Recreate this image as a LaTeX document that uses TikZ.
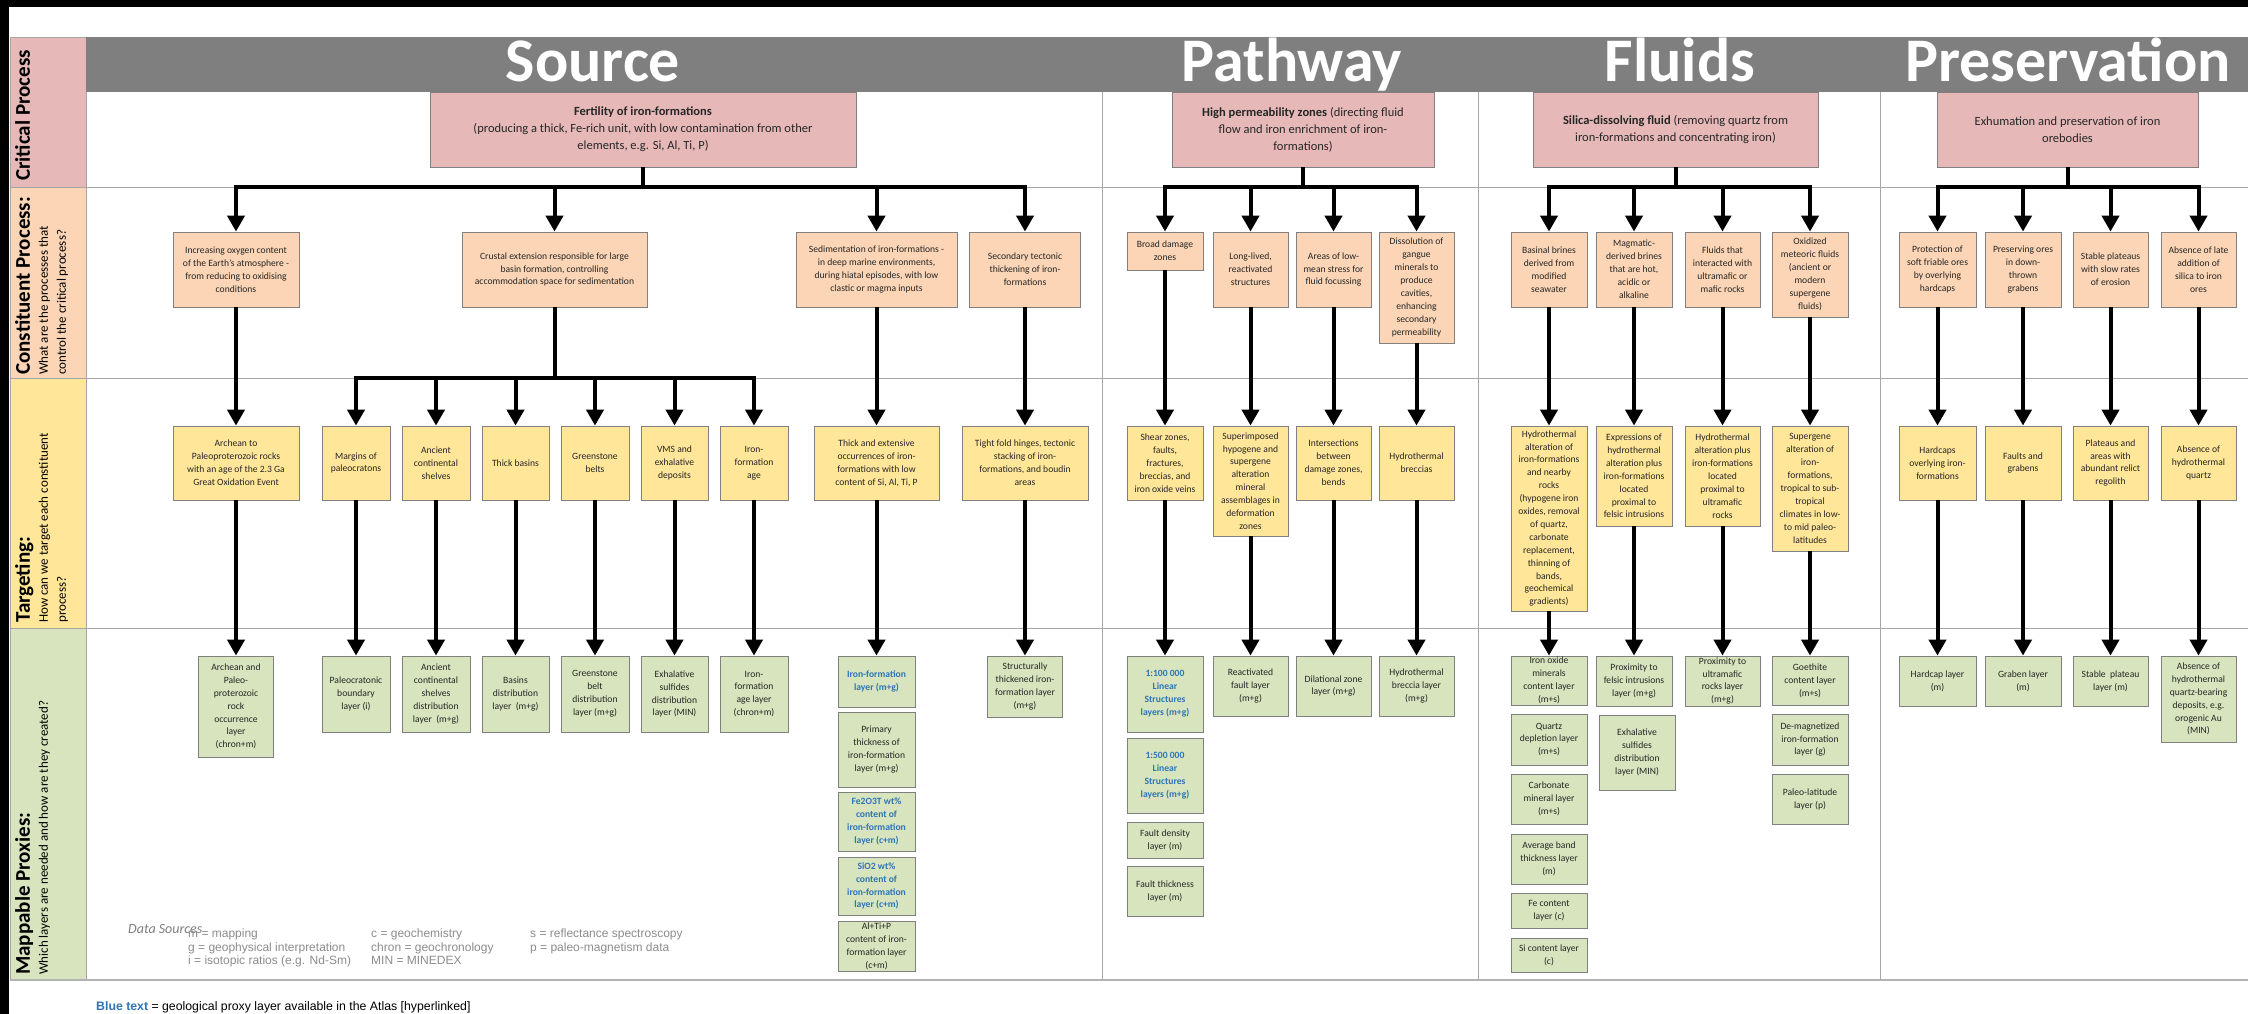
\documentclass[tikz,border=0pt]{standalone}
\usepackage{fontspec}
\setmainfont{Carlito}
\newfontfamily\arialfont{Liberation Sans}
\usetikzlibrary{arrows.meta}

\definecolor{critfill}{HTML}{E6B9B8}
\definecolor{consfill}{HTML}{FBD5B5}
\definecolor{targfill}{HTML}{FFE699}
\definecolor{proxfill}{HTML}{D7E4BD}
\definecolor{headgray}{HTML}{7F7F7F}
\definecolor{gridgray}{HTML}{A6A6A6}
\definecolor{atlasblue}{HTML}{2E75B6}
\definecolor{keygray}{HTML}{8C8C8C}

\begin{document}
\begin{tikzpicture}[x=1pt,y=-1pt,
  arr/.style={line width=4pt,-{Triangle[width=17pt,length=16pt]}},
  box/.style={draw=black!50,line width=0.8pt,align=center,inner sep=1pt,text=black!85,font=\fontsize{9.6}{12.9}\selectfont},
  wh/.style 2 args={minimum width=#1,minimum height=#2},
  crit/.style={box,fill=critfill,font=\fontsize{12.5}{17}\selectfont},
  cons/.style={box,fill=consfill},
  targ/.style={box,fill=targfill},
  prox/.style={box,fill=proxfill},
  link/.style={prox,text=atlasblue,font=\fontsize{9.6}{12.9}\selectfont\bfseries},
  head/.style={anchor=base,text=white,font=\fontsize{62}{62}\selectfont\bfseries},
  side/.style={rotate=90,anchor=north west,align=left,inner sep=0pt,text=black,font=\fontsize{13}{18}\selectfont},
  key/.style={anchor=north west,align=left,inner sep=0pt,text=keygray,font=\arialfont\fontsize{12}{13.5}\selectfont}]
\useasboundingbox (0,0) rectangle (2248,1014);
\fill[white] (0,0) rectangle (2248,1014);
\fill[black] (0,0) rectangle (2248,7);
\fill[black] (0,0) rectangle (9,1014);

% left column and grid
\draw[gridgray,fill=critfill] (10,37) rectangle (86,187);
\draw[gridgray,fill=consfill] (10,187) rectangle (86,378);
\draw[gridgray,fill=targfill] (10,378) rectangle (86,628);
\draw[gridgray,fill=proxfill] (10,628) rectangle (86,980);
\fill[headgray] (86,37) rectangle (2248,92);
\draw[gridgray,line width=1pt] (86,187) -- (2248,187) (86,378) -- (2248,378) (86,628) -- (2248,628);
\draw[gridgray,line width=1pt] (1102,92) -- (1102,980) (1478,92) -- (1478,980) (1880,92) -- (1880,980);
\draw[black!30,line width=2.5pt] (10,980) -- (2248,980);

\node[side] (lbcrit) at (15,181) {{\fontsize{21}{24}\selectfont\bfseries Critical Process}};
\node[side] (lbcons) at (15,375) {{\fontsize{21}{24}\selectfont\bfseries Constituent Process:}\\What are the processes that\\control the critical process?};
\node[side] (lbtarg) at (15,623) {{\fontsize{21}{24}\selectfont\bfseries Targeting:}\\How can we target each constituent\\process?};
\node[side] (lbprox) at (15,975) {{\fontsize{21}{24}\selectfont\bfseries Mappable Proxies:}\\Which layers are needed and how are they created?};

\node[head] (hsrc) at (593,82) {Source};
\node[head] (hpath) at (1292,82) {Pathway};
\node[head] (hfluid) at (1680,82) {Fluids};
\node[head] (hpres) at (2068,82) {Preservation};

% critical processes
\node[crit,wh={426}{75}] (fert) at (643,129.5) {\textbf{Fertility of iron-formations}\\(producing a thick, Fe-rich unit, with low contamination from other\\elements, e.g. Si, Al, Ti, P)};
\node[crit,wh={262}{75}] (perm) at (1303,129.5) {\textbf{High permeability zones} (directing fluid\\flow and iron enrichment of iron-\\formations)};
\node[crit,wh={285}{75}] (silica) at (1675.5,129.5) {\textbf{Silica-dissolving fluid} (removing quartz from\\iron-formations and concentrating iron)};
\node[crit,wh={261}{75}] (exhum) at (2067.5,129.5) {Exhumation and preservation of iron\\orebodies};

% constituent processes
\node[cons,wh={126}{75}] (c1) at (236,269.5) {Increasing oxygen content\\of the Earth's atmosphere -\\from reducing to oxidising\\conditions};
\node[cons,wh={185}{75}] (c2) at (554.5,269.5) {Crustal extension responsible for large\\basin formation, controlling\\accommodation space for sedimentation};
\node[cons,wh={161}{75}] (c3) at (876.5,269.5) {Sedimentation of iron-formations -\\in deep marine environments,\\during hiatal episodes, with low\\clastic or magma inputs};
\node[cons,wh={111}{75}] (c4) at (1025,269.5) {Secondary tectonic\\thickening of iron-\\formations};
\node[cons,wh={76}{38}] (p1) at (1165,251) {Broad damage\\zones};
\node[cons,wh={75}{75}] (p2) at (1250.5,269.5) {Long-lived,\\reactivated\\structures};
\node[cons,wh={75}{75}] (p3) at (1333.5,269.5) {Areas of low-\\mean stress for\\fluid focussing};
\node[cons,wh={75}{111}] (p4) at (1416.5,287.5) {Dissolution of\\gangue\\minerals to\\produce\\cavities,\\enhancing\\secondary\\permeability};
\node[cons,wh={76}{75}] (f1) at (1549,269.5) {Basinal brines\\derived from\\modified\\seawater};
\node[cons,wh={76}{75}] (f2) at (1634,269.5) {Magmatic-\\derived brines\\that are hot,\\acidic or\\alkaline};
\node[cons,wh={75}{75}] (f3) at (1722.5,269.5) {Fluids that\\interacted with\\ultramafic or\\mafic rocks};
\node[cons,wh={76}{85}] (f4) at (1810,274.5) {Oxidized\\meteoric fluids\\(ancient or\\modern\\supergene\\fluids)};
\node[cons,wh={77}{75}] (r1) at (1937.5,269.5) {Protection of\\soft friable ores\\by overlying\\hardcaps};
\node[cons,wh={76}{75}] (r2) at (2023,269.5) {Preserving ores\\in down-\\thrown\\grabens};
\node[cons,wh={75}{75}] (r3) at (2110.5,269.5) {Stable plateaus\\with slow rates\\of erosion};
\node[cons,wh={75}{75}] (r4) at (2198.5,269.5) {Absence of late\\addition of\\silica to iron\\ores};

% targeting
\node[targ,wh={126}{74}] (t1) at (236,463) {Archean to\\Paleoproterozoic rocks\\with an age of the 2.3 Ga\\Great Oxidation Event};
\node[targ,wh={68}{74}] (t2) at (356,463) {Margins of\\paleocratons};
\node[targ,wh={68}{74}] (t3) at (436,463) {Ancient\\continental\\shelves};
\node[targ,wh={67}{74}] (t4) at (515.5,463) {Thick basins};
\node[targ,wh={68}{74}] (t5) at (595,463) {Greenstone\\belts};
\node[targ,wh={67}{74}] (t6) at (674.5,463) {VMS and\\exhalative\\deposits};
\node[targ,wh={68}{74}] (t7) at (754,463) {Iron-\\formation\\age};
\node[targ,wh={125}{74}] (t8) at (876.5,463) {Thick and extensive\\occurrences of iron-\\formations with low\\content of Si, Al, Ti, P};
\node[targ,wh={126}{74}] (t9) at (1025,463) {Tight fold hinges, tectonic\\stacking of iron-\\formations, and boudin\\areas};
\node[targ,wh={76}{74}] (pt1) at (1165,463) {Shear zones,\\faults,\\fractures,\\breccias, and\\iron oxide veins};
\node[targ,wh={75}{110}] (pt2) at (1250.5,481) {Superimposed\\hypogene and\\supergene\\alteration\\mineral\\assemblages in\\deformation\\zones};
\node[targ,wh={75}{74}] (pt3) at (1333.5,463) {Intersections\\between\\damage zones,\\bends};
\node[targ,wh={75}{74}] (pt4) at (1416.5,463) {Hydrothermal\\breccias};
\node[targ,wh={76}{185}] (ft1) at (1549,518.5) {Hydrothermal\\alteration of\\iron-formations\\and nearby\\rocks\\(hypogene iron\\oxides, removal\\of quartz,\\carbonate\\replacement,\\thinning of\\bands,\\geochemical\\gradients)};
\node[targ,wh={76}{100}] (ft2) at (1634,476) {Expressions of\\hydrothermal\\alteration plus\\iron-formations\\located\\proximal to\\felsic intrusions};
\node[targ,wh={75}{100}] (ft3) at (1722.5,476) {Hydrothermal\\alteration plus\\iron-formations\\located\\proximal to\\ultramafic\\rocks};
\node[targ,wh={76}{125}] (ft4) at (1810,488.5) {Supergene\\alteration of\\iron-\\formations,\\tropical to sub-\\tropical\\climates in low-\\to mid paleo-\\latitudes};
\node[targ,wh={77}{74}] (rt1) at (1937.5,463) {Hardcaps\\overlying iron-\\formations};
\node[targ,wh={76}{74}] (rt2) at (2023,463) {Faults and\\grabens};
\node[targ,wh={75}{74}] (rt3) at (2110.5,463) {Plateaus and\\areas with\\abundant relict\\regolith};
\node[targ,wh={75}{74}] (rt4) at (2198.5,463) {Absence of\\hydrothermal\\quartz};

% mappable proxies
\node[prox,wh={75}{101}] (m1) at (236,706.5) {Archean and\\Paleo-\\proterozoic\\rock\\occurrence\\layer\\(chron+m)};
\node[prox,wh={68}{76}] (m2) at (356,694) {Paleocratonic\\boundary\\layer (i)};
\node[prox,wh={68}{76}] (m3) at (436,694) {Ancient\\continental\\shelves\\distribution\\layer\ \ (m+g)};
\node[prox,wh={67}{76}] (m4) at (515.5,694) {Basins\\distribution\\layer\ \ (m+g)};
\node[prox,wh={68}{76}] (m5) at (595,694) {Greenstone\\belt\\distribution\\layer (m+g)};
\node[prox,wh={67}{76}] (m6) at (674.5,694) {Exhalative\\sulfides\\distribution\\layer (MIN)};
\node[prox,wh={68}{76}] (m7) at (754,694) {Iron-\\formation\\age layer\\(chron+m)};
\node[link,wh={77}{51}] (m8) at (876.5,681.5) {Iron-formation\\layer (m+g)};
\node[prox,wh={77}{75}] (m8b) at (876.5,749.5) {Primary\\thickness of\\iron-formation\\layer (m+g)};
\node[link,wh={77}{59}] (m8c) at (876.5,821.5) {Fe2O3T wt\%\\content of\\iron-formation\\layer (c+m)};
\node[link,wh={77}{58}] (m8d) at (876.5,886) {SiO2 wt\%\\content of\\iron-formation\\layer (c+m)};
\node[prox,wh={77}{50}] (m8e) at (876.5,946) {Al+Ti+P\\content of iron-\\formation layer\\(c+m)};
\node[prox,wh={75}{61}] (m9) at (1025,686.5) {Structurally\\thickened iron-\\formation layer\\(m+g)};
\node[link,wh={76}{76}] (pm1) at (1165,694) {1:100 000\\Linear\\Structures\\layers (m+g)};
\node[link,wh={76}{75}] (pm1b) at (1165,775.5) {1:500 000\\Linear\\Structures\\layers (m+g)};
\node[prox,wh={76}{36}] (pm1c) at (1165,840) {Fault density\\layer (m)};
\node[prox,wh={76}{50}] (pm1d) at (1165,891) {Fault thickness\\layer (m)};
\node[prox,wh={75}{60}] (pm2) at (1250.5,686) {Reactivated\\fault layer\\(m+g)};
\node[prox,wh={75}{60}] (pm3) at (1333.5,686) {Dilational zone\\layer (m+g)};
\node[prox,wh={75}{60}] (pm4) at (1416.5,686) {Hydrothermal\\breccia layer\\(m+g)};
\node[prox,wh={76}{49}] (fm1) at (1549,680.5) {Iron oxide\\minerals\\content layer\\(m+s)};
\node[prox,wh={76}{51}] (fm1b) at (1549,739.5) {Quartz\\depletion layer\\(m+s)};
\node[prox,wh={76}{50}] (fm1c) at (1549,799) {Carbonate\\mineral layer\\(m+s)};
\node[prox,wh={76}{50}] (fm1d) at (1549,859) {Average band\\thickness layer\\(m)};
\node[prox,wh={76}{35}] (fm1e) at (1549,910.5) {Fe content\\layer (c)};
\node[prox,wh={76}{34}] (fm1f) at (1549,955) {Si content layer\\(c)};
\node[prox,wh={76}{50}] (fm2) at (1634,681) {Proximity to\\felsic intrusions\\layer (m+g)};
\node[prox,wh={76}{75}] (fm2b) at (1637,752.5) {Exhalative\\sulfides\\distribution\\layer (MIN)};
\node[prox,wh={75}{50}] (fm3) at (1722.5,681) {Proximity to\\ultramafic\\rocks layer\\(m+g)};
\node[prox,wh={76}{49}] (fm4) at (1810,680.5) {Goethite\\content layer\\(m+s)};
\node[prox,wh={76}{51}] (fm4b) at (1810,739.5) {De-magnetized\\iron-formation\\layer (g)};
\node[prox,wh={76}{50}] (fm4c) at (1810,799) {Paleo-latitude\\layer (p)};
\node[prox,wh={77}{50}] (rm1) at (1937.5,681) {Hardcap layer\\(m)};
\node[prox,wh={76}{50}] (rm2) at (2023,681) {Graben layer\\(m)};
\node[prox,wh={75}{50}] (rm3) at (2110.5,681) {Stable\ \ plateau\\layer (m)};
\node[prox,wh={75}{86}] (rm4) at (2198.5,699) {Absence of\\hydrothermal\\quartz-bearing\\deposits, e.g.\\orogenic Au\\(MIN)};

% critical -> constituent
\draw[arr] (fert.south) -- ++(0,20) -| (c1.north);
\draw[arr] (fert.south) -- ++(0,20) -| (c2.north);
\draw[arr] (fert.south) -- ++(0,20) -| (c3.north);
\draw[arr] (fert.south) -- ++(0,20) -| (c4.north);
\draw[arr] (perm.south) -- ++(0,20) -| (p1.north);
\draw[arr] (perm.south) -- ++(0,20) -| (p2.north);
\draw[arr] (perm.south) -- ++(0,20) -| (p3.north);
\draw[arr] (perm.south) -- ++(0,20) -| (p4.north);
\draw[arr] (silica.south) -- ++(0,20) -| (f1.north);
\draw[arr] (silica.south) -- ++(0,20) -| (f2.north);
\draw[arr] (silica.south) -- ++(0,20) -| (f3.north);
\draw[arr] (silica.south) -- ++(0,20) -| (f4.north);
\draw[arr] (exhum.south) -- ++(0,20) -| (r1.north);
\draw[arr] (exhum.south) -- ++(0,20) -| (r2.north);
\draw[arr] (exhum.south) -- ++(0,20) -| (r3.north);
\draw[arr] (exhum.south) -- ++(0,20) -| (r4.north);

% constituent -> targeting
\draw[arr] (c1) -- (t1);
\draw[arr] (c2.south) -- ++(0,71) -| (t2.north);
\draw[arr] (c2.south) -- ++(0,71) -| (t3.north);
\draw[arr] (c2.south) -- ++(0,71) -| (t4.north);
\draw[arr] (c2.south) -- ++(0,71) -| (t5.north);
\draw[arr] (c2.south) -- ++(0,71) -| (t6.north);
\draw[arr] (c2.south) -- ++(0,71) -| (t7.north);
\draw[arr] (c3) -- (t8);
\draw[arr] (c4) -- (t9);
\draw[arr] (p1) -- (pt1);
\draw[arr] (p2) -- (pt2);
\draw[arr] (p3) -- (pt3);
\draw[arr] (p4) -- (pt4);
\draw[arr] (f1) -- (ft1);
\draw[arr] (f2) -- (ft2);
\draw[arr] (f3) -- (ft3);
\draw[arr] (f4) -- (ft4);
\draw[arr] (r1) -- (rt1);
\draw[arr] (r2) -- (rt2);
\draw[arr] (r3) -- (rt3);
\draw[arr] (r4) -- (rt4);

% targeting -> proxies
\draw[arr] (t1) -- (m1);
\draw[arr] (t2) -- (m2);
\draw[arr] (t3) -- (m3);
\draw[arr] (t4) -- (m4);
\draw[arr] (t5) -- (m5);
\draw[arr] (t6) -- (m6);
\draw[arr] (t7) -- (m7);
\draw[arr] (t8) -- (m8);
\draw[arr] (t9) -- (m9);
\draw[arr] (pt1) -- (pm1);
\draw[arr] (pt2) -- (pm2);
\draw[arr] (pt3) -- (pm3);
\draw[arr] (pt4) -- (pm4);
\draw[arr] (ft1) -- (fm1);
\draw[arr] (ft2) -- (fm2);
\draw[arr] (ft3) -- (fm3);
\draw[arr] (ft4) -- (fm4);
\draw[arr] (rt1) -- (rm1);
\draw[arr] (rt2) -- (rm2);
\draw[arr] (rt3) -- (rm3);
\draw[arr] (rt4) -- (rm4);

% data sources key
\node[anchor=base west,inner sep=0pt,text=headgray,font=\fontsize{14}{14}\selectfont\itshape] (dsrc) at (128,933) {Data Sources};
\node[key] (key1) at (188,929) {m = mapping\\g = geophysical interpretation\\i = isotopic ratios (e.g. Nd-Sm)};
\node[key] (key2) at (371,929) {c = geochemistry\\chron = geochronology\\MIN = MINEDEX};
\node[key] (key3) at (530,929) {s = reflectance spectroscopy\\p = paleo-magnetism data};
\node[anchor=base west,inner sep=0pt,font=\arialfont\fontsize{12.3}{13}\selectfont] (note) at (96,1010) {\textcolor{atlasblue}{\bfseries Blue text} = geological proxy layer available in the Atlas [hyperlinked]};
\end{tikzpicture}
\end{document}
